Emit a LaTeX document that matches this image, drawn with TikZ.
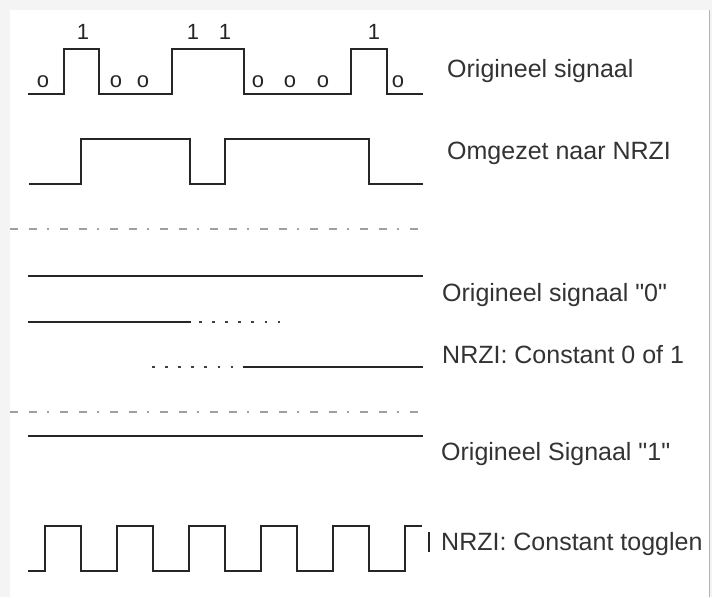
\documentclass[tikz,border=0pt]{standalone}
\usepackage{fontspec}
\setmainfont{Liberation Sans}
\usepackage{tikz}
\usetikzlibrary{positioning}

\begin{document}
\begin{tikzpicture}[x=1pt, y=-1pt,
        sig/.style={line width=2.6pt, black!85, line join=miter},
        sepline/.style={line width=1.4pt, gray!75, dash pattern=on 8pt off 11pt on 8pt off 10pt on 2pt off 11pt},
        dotline/.style={line width=2.8pt, black!75, dash pattern=on 2.8pt off 10.3pt},
        lbl/.style={anchor=base west, inner sep=0pt, font=\fontsize{25}{25}\selectfont, text=black!80},
        bit/.style={anchor=base, inner sep=0pt, font=\fontsize{22}{22}\selectfont, text=black!85}
    ]
        % frame
        \fill[gray!9] (0,0) rectangle (712,597);
        \fill[white] (10,10) rectangle (709,597);
        \draw[gray!60, line width=1pt] (709.5,10) -- (709.5,597);
        \useasboundingbox (0,0) rectangle (712,597);

        % original signal with its bits
        \draw[sig] (28,94) -- (64,94) -- (64,49) -- (99,49) -- (99,94) -- (172,94) -- (172,49) -- (244,49)
            -- (244,94) -- (351,94) -- (351,49) -- (387,49) -- (387,94) -- (423,94);
        \node[bit] (b0) at (43,87) {o};
        \node[bit] (b1) at (83,39) {1};
        \node[bit] (b2) at (116,87) {o};
        \node[bit] (b3) at (143,87) {o};
        \node[bit] (b4) at (193,39) {1};
        \node[bit] (b5) at (225,39) {1};
        \node[bit] (b6) at (258,87) {o};
        \node[bit] (b7) at (290,87) {o};
        \node[bit] (b8) at (323,87) {o};
        \node[bit] (b9) at (374,39) {1};
        \node[bit] (b10) at (398,87) {o};
        \node[lbl] (orig) at (447,77) {Origineel signaal};

        % converted to NRZI
        \draw[sig] (29,184) -- (81,184) -- (81,139) -- (190,139) -- (190,184) -- (225,184) -- (225,139)
            -- (369,139) -- (369,184) -- (423,184);
        \node[lbl] (nrzi) at (447,159) {Omgezet naar NRZI};

        \draw[sepline] (10,229) -- (428,229);

        % constant zero
        \draw[sig] (28,276) -- (423,276);
        \node[lbl] (orig0) at (442,301) {Origineel signaal \textquotedbl0\textquotedbl};
        \draw[sig] (28,322) -- (191,322);
        \draw[dotline] (199,322) -- (284,322);
        \draw[dotline] (152,367) -- (237,367);
        \draw[sig] (243,367) -- (423,367);
        \node[lbl] (const) at (442,363) {NRZI: Constant 0 of 1};

        \draw[sepline] (10,412) -- (428,412);

        % constant one
        \draw[sig] (28,436) -- (423,436);
        \node[lbl] (orig1) at (441,460) {Origineel Signaal \textquotedbl1\textquotedbl};
        \draw[sig] (28,571) -- (45,571) -- (45,526) -- (81,526) -- (81,571) -- (117,571) -- (117,526)
            -- (153,526) -- (153,571) -- (189,571) -- (189,526) -- (225,526) -- (225,571) -- (261,571)
            -- (261,526) -- (297,526) -- (297,571) -- (333,571) -- (333,526) -- (369,526) -- (369,571)
            -- (405,571) -- (405,526) -- (422,526);
        \draw[black!85, line width=1.8pt] (429,532) -- (429,552);
        \node[lbl] (toggle) at (441,550) {NRZI: Constant togglen};
    \end{tikzpicture}
\end{document}
